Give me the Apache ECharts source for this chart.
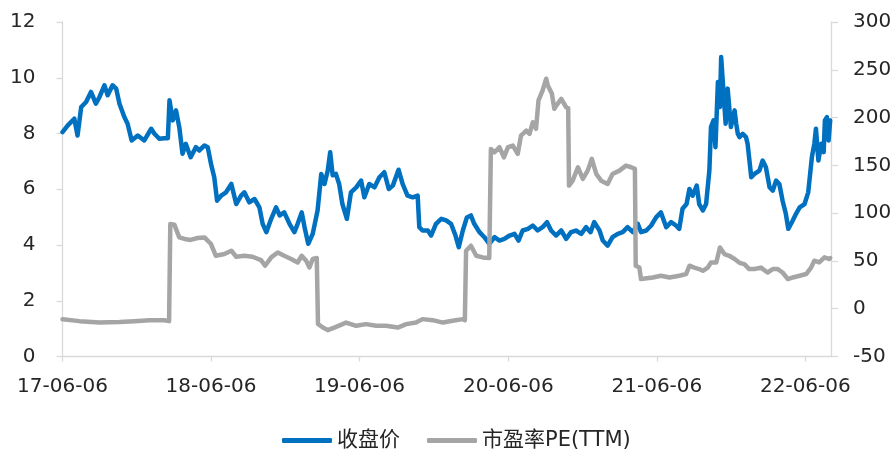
<!DOCTYPE html>
<html>
<head>
<meta charset="utf-8">
<script src="https://cdn.jsdelivr.net/npm/echarts@6/dist/echarts.min.js"></script>
<style>
html,body{margin:0;padding:0;background:#fff;}
#chart{width:896px;height:449px;}
</style>
</head>
<body>
<div id="chart"></div>
<script>
// ---- data ----
const seriesNames = ['收盘价', '市盈率PE(TTM)'];
const tickDates = ['2017-06-06','2018-06-06','2019-06-06','2020-06-06','2021-06-06','2022-06-06'];
const tickLabels = ['17-06-06','18-06-06','19-06-06','20-06-06','21-06-06','22-06-06'];
const startDate = '2017-06-06';
const endDate = '2022-08-08';

const priceDates = [
'2017-06-06','2017-06-19','2017-07-05','2017-07-13','2017-07-22','2017-08-03','2017-08-15','2017-08-27','2017-09-05','2017-09-17',
'2017-09-25','2017-10-07','2017-10-16','2017-10-24','2017-11-05','2017-11-13','2017-11-23','2017-12-08','2017-12-24','2018-01-10',
'2018-01-18','2018-01-30','2018-02-11','2018-02-20','2018-02-24','2018-03-04','2018-03-12','2018-03-20','2018-03-28','2018-04-05',
'2018-04-17','2018-04-30','2018-05-08','2018-05-21','2018-05-29','2018-06-06','2018-06-14','2018-06-21','2018-07-01','2018-07-13',
'2018-07-26','2018-08-07','2018-08-19','2018-08-27','2018-09-08','2018-09-21','2018-10-03','2018-10-11','2018-10-20','2018-11-01',
'2018-11-13','2018-11-22','2018-12-03','2018-12-16','2018-12-28','2019-01-05','2019-01-15','2019-01-22','2019-01-31','2019-02-11',
'2019-02-23','2019-03-04','2019-03-12','2019-03-20','2019-03-26','2019-04-01','2019-04-09','2019-04-17','2019-04-25','2019-05-06',
'2019-05-16','2019-05-29','2019-06-10','2019-06-18','2019-06-30','2019-07-13','2019-07-25','2019-08-06','2019-08-17','2019-08-27',
'2019-09-10','2019-09-20','2019-10-02','2019-10-15','2019-10-27','2019-10-31','2019-11-08','2019-11-21','2019-11-29','2019-12-11',
'2019-12-24','2020-01-05','2020-01-17','2020-01-28','2020-02-05','2020-02-15','2020-02-25','2020-03-06','2020-03-14','2020-03-27',
'2020-04-08','2020-04-20','2020-05-03','2020-05-15','2020-05-27','2020-06-09','2020-06-21','2020-07-01','2020-07-11','2020-07-24',
'2020-08-05','2020-08-17','2020-08-29','2020-09-09','2020-09-19','2020-10-01','2020-10-14','2020-10-26','2020-11-07','2020-11-19',
'2020-12-02','2020-12-14','2020-12-25','2021-01-03','2021-01-16','2021-01-24','2021-02-05','2021-02-17','2021-03-02','2021-03-14',
'2021-03-26','2021-04-08','2021-04-20','2021-04-28','2021-05-11','2021-05-23','2021-06-04','2021-06-16','2021-06-29','2021-07-11',
'2021-07-23','2021-07-31','2021-08-08','2021-08-18','2021-08-25','2021-09-02','2021-09-12','2021-09-18','2021-09-27','2021-10-05',
'2021-10-13','2021-10-17','2021-10-23','2021-10-28','2021-11-03','2021-11-08','2021-11-11','2021-11-17','2021-11-22','2021-11-27',
'2021-12-05','2021-12-14','2021-12-18','2021-12-22','2021-12-26','2022-01-03','2022-01-11','2022-01-15','2022-01-24','2022-02-01',
'2022-02-13','2022-02-21','2022-03-01','2022-03-10','2022-03-18','2022-03-26','2022-04-03','2022-04-11','2022-04-19','2022-04-25',
'2022-05-06','2022-05-14','2022-05-23','2022-06-04','2022-06-13','2022-06-22','2022-06-28','2022-07-02','2022-07-08','2022-07-15',
'2022-07-21','2022-07-24','2022-07-29','2022-08-02','2022-08-06'
];
const priceValues = [
8.05,8.29,8.53,7.93,8.95,9.13,9.49,9.07,9.31,9.73,
9.37,9.73,9.61,9.07,8.59,8.35,7.75,7.93,7.75,8.17,
7.99,7.81,7.83,7.83,9.19,8.47,8.83,8.23,7.27,7.63,
7.15,7.51,7.39,7.57,7.51,6.91,6.43,5.59,5.77,5.89,
6.19,5.47,5.77,5.89,5.53,5.65,5.35,4.76,4.46,4.94,
5.35,5.06,5.17,4.76,4.46,4.76,5.17,4.64,4.04,4.40,
5.24,6.55,6.19,6.67,7.33,6.50,6.55,6.19,5.47,4.94,
5.89,6.07,6.31,5.71,6.19,6.07,6.43,6.61,6.01,6.13,
6.70,6.19,5.77,5.71,5.77,4.64,4.52,4.52,4.34,4.76,
4.94,4.88,4.76,4.34,3.92,4.52,4.99,5.06,4.76,4.46,
4.28,4.04,4.28,4.16,4.22,4.34,4.40,4.16,4.52,4.58,
4.70,4.52,4.64,4.82,4.52,4.34,4.52,4.22,4.46,4.52,
4.40,4.64,4.46,4.82,4.52,4.16,3.98,4.28,4.40,4.46,
4.64,4.46,4.76,4.46,4.52,4.70,4.99,5.17,4.64,4.82,
4.70,4.58,5.30,5.47,6.01,5.77,6.13,5.47,5.24,5.47,
6.67,8.23,8.47,7.51,9.85,8.95,10.74,9.43,8.35,9.61,
8.23,8.83,8.35,7.99,7.87,7.99,7.87,7.63,6.43,6.55,
6.67,7.03,6.79,6.07,5.95,6.31,6.19,5.59,5.12,4.58,
4.88,5.12,5.35,5.47,5.89,7.15,7.63,8.17,7.03,7.63,
7.33,8.47,8.59,7.75,8.47
];

const peDates = [
'2017-06-06','2017-07-18','2017-09-05','2017-10-24','2017-11-30','2018-01-06','2018-02-11','2018-02-23','2018-02-26','2018-03-08',
'2018-03-20','2018-04-02','2018-04-17','2018-05-04','2018-05-21','2018-06-06','2018-06-18','2018-07-09','2018-07-26','2018-08-07',
'2018-08-27','2018-09-16','2018-10-07','2018-10-17','2018-11-01','2018-11-17','2018-12-03','2018-12-20','2019-01-05','2019-01-15',
'2019-01-26','2019-02-03','2019-02-11','2019-02-21','2019-02-24','2019-03-08','2019-03-20','2019-04-05','2019-05-04','2019-05-29',
'2019-06-22','2019-07-17','2019-08-10','2019-09-08','2019-09-29','2019-10-23','2019-11-08','2019-12-03','2019-12-28','2020-01-21',
'2020-02-15','2020-02-20','2020-02-23','2020-03-06','2020-03-19','2020-04-04','2020-04-20','2020-04-24','2020-05-03','2020-05-15',
'2020-05-26','2020-06-05','2020-06-17','2020-06-29','2020-07-07','2020-07-20','2020-07-28','2020-08-05','2020-08-13','2020-08-19',
'2020-08-29','2020-09-07','2020-09-11','2020-09-21','2020-09-27','2020-10-05','2020-10-14','2020-10-26','2020-10-31','2020-11-02',
'2020-11-11','2020-11-24','2020-12-06','2020-12-18','2020-12-28','2021-01-08','2021-01-20','2021-02-05','2021-02-17','2021-03-06',
'2021-03-22','2021-04-04','2021-04-13','2021-04-15','2021-04-24','2021-04-28','2021-05-27','2021-06-16','2021-07-07','2021-07-31',
'2021-08-17','2021-08-25','2021-09-06','2021-09-18','2021-09-27','2021-10-09','2021-10-17','2021-10-30','2021-11-08','2021-11-19',
'2021-12-01','2021-12-14','2021-12-26','2022-01-07','2022-01-19','2022-02-01','2022-02-17','2022-03-05','2022-03-18','2022-03-30',
'2022-04-11','2022-04-24','2022-05-06','2022-05-23','2022-06-08','2022-06-20','2022-06-28','2022-07-10','2022-07-23','2022-08-04',
'2022-08-06'
];
const peValues = [
-11,-13,-14.5,-14,-13,-12,-12,-13,88.6,88,
74.6,73,72,74,74.6,67.7,55.4,57.2,60.7,54.4,
55.4,54.4,50.9,45,53.7,58.9,55.4,52,48.4,55.4,
50.2,43.2,52,53,-16,-19.7,-22.4,-19.7,-14.5,-17.9,
-16.1,-17.9,-17.9,-19.7,-16.1,-14.5,-10.9,-12,-14.5,-12.6,
-10.9,-12,60.7,65.9,55.4,53.7,53,167.2,163.7,169,
158.4,169,170.7,162,181.2,186.4,183,195.1,188.2,217.9,
228.3,240.6,233.6,224.9,209.2,214.4,219.6,210.8,210,128.8,
134,148,135.8,144.5,156.8,141,134,130.6,141,144.5,
149.7,148,146.3,45,43,31,32.7,34.5,32.7,34.5,
36.3,45,43,41.5,39.7,43,48.4,48.4,64.1,57.2,
55.4,52,48,46.7,41.5,41.5,43,37.9,41.5,41.5,
37.9,31,32.7,34.5,36.3,43,50.2,48.4,53.7,52,
53
];

// ---- build ----
const DAY = 86400000;
const t0 = Date.parse(startDate);
const dayOf = d => Math.round((Date.parse(d) - t0) / DAY);
const tickValues = tickDates.map(dayOf);
const priceData = priceDates.map((d, i) => [dayOf(d), priceValues[i]]);
const peData = peDates.map((d, i) => [dayOf(d), peValues[i]]);

const FONT = "'DejaVu Sans', 'Noto Sans CJK SC', sans-serif";
const axisColor = '#D9D9D9';
const textColor = '#262626';

const chart = echarts.init(document.getElementById('chart'), null, {renderer: 'canvas'});
chart.setOption({
  animation: false,
  backgroundColor: '#fff',
  textStyle: {fontFamily: FONT},
  grid: {left: 62.5, right: 65, top: 22, bottom: 92.5, containLabel: false},
  legend: {
    left: 277, top: 425,
    icon: 'roundRect', itemWidth: 50, itemHeight: 5, itemGap: 27,
    textStyle: {fontFamily: FONT, fontSize: 21, color: textColor},
    data: seriesNames
  },
  xAxis: {
    type: 'value', min: 0, max: dayOf(endDate),
    splitLine: {show: false},
    axisLine: {show: true, lineStyle: {color: axisColor, width: 1.3}},
    axisTick: {show: true, length: 5, customValues: tickValues, lineStyle: {color: axisColor, width: 1.3}},
    axisLabel: {
      customValues: tickValues, margin: 20, fontSize: 20, fontFamily: FONT, color: textColor,
      formatter: v => { const i = tickValues.indexOf(v); return i >= 0 ? tickLabels[i] : ''; }
    }
  },
  yAxis: [
    {
      type: 'value', min: 0, max: 12, interval: 2, position: 'left',
      splitLine: {show: false},
      axisLine: {show: true, lineStyle: {color: axisColor, width: 1.3}},
      axisTick: {show: true, length: 6, lineStyle: {color: axisColor, width: 1.3}},
      axisLabel: {margin: 27, fontSize: 20, fontFamily: FONT, color: textColor}
    },
    {
      type: 'value', min: -50, max: 300, interval: 50, position: 'right',
      splitLine: {show: false},
      axisLine: {show: true, lineStyle: {color: axisColor, width: 1.3}},
      axisTick: {show: true, length: 7, lineStyle: {color: axisColor, width: 1.3}},
      axisLabel: {margin: 22, fontSize: 20, fontFamily: FONT, color: textColor}
    }
  ],
  series: [
    {
      name: seriesNames[0], type: 'line', yAxisIndex: 0, data: priceData,
      showSymbol: false, symbol: 'none',
      lineStyle: {color: '#0070C0', width: 4.5, cap: 'round', join: 'round'},
      itemStyle: {color: '#0070C0'}, z: 2
    },
    {
      name: seriesNames[1], type: 'line', yAxisIndex: 1, data: peData,
      showSymbol: false, symbol: 'none',
      lineStyle: {color: '#A5A5A5', width: 4.5, cap: 'round', join: 'round'},
      itemStyle: {color: '#A5A5A5'}, z: 3
    }
  ]
});
</script>
</body>
</html>
